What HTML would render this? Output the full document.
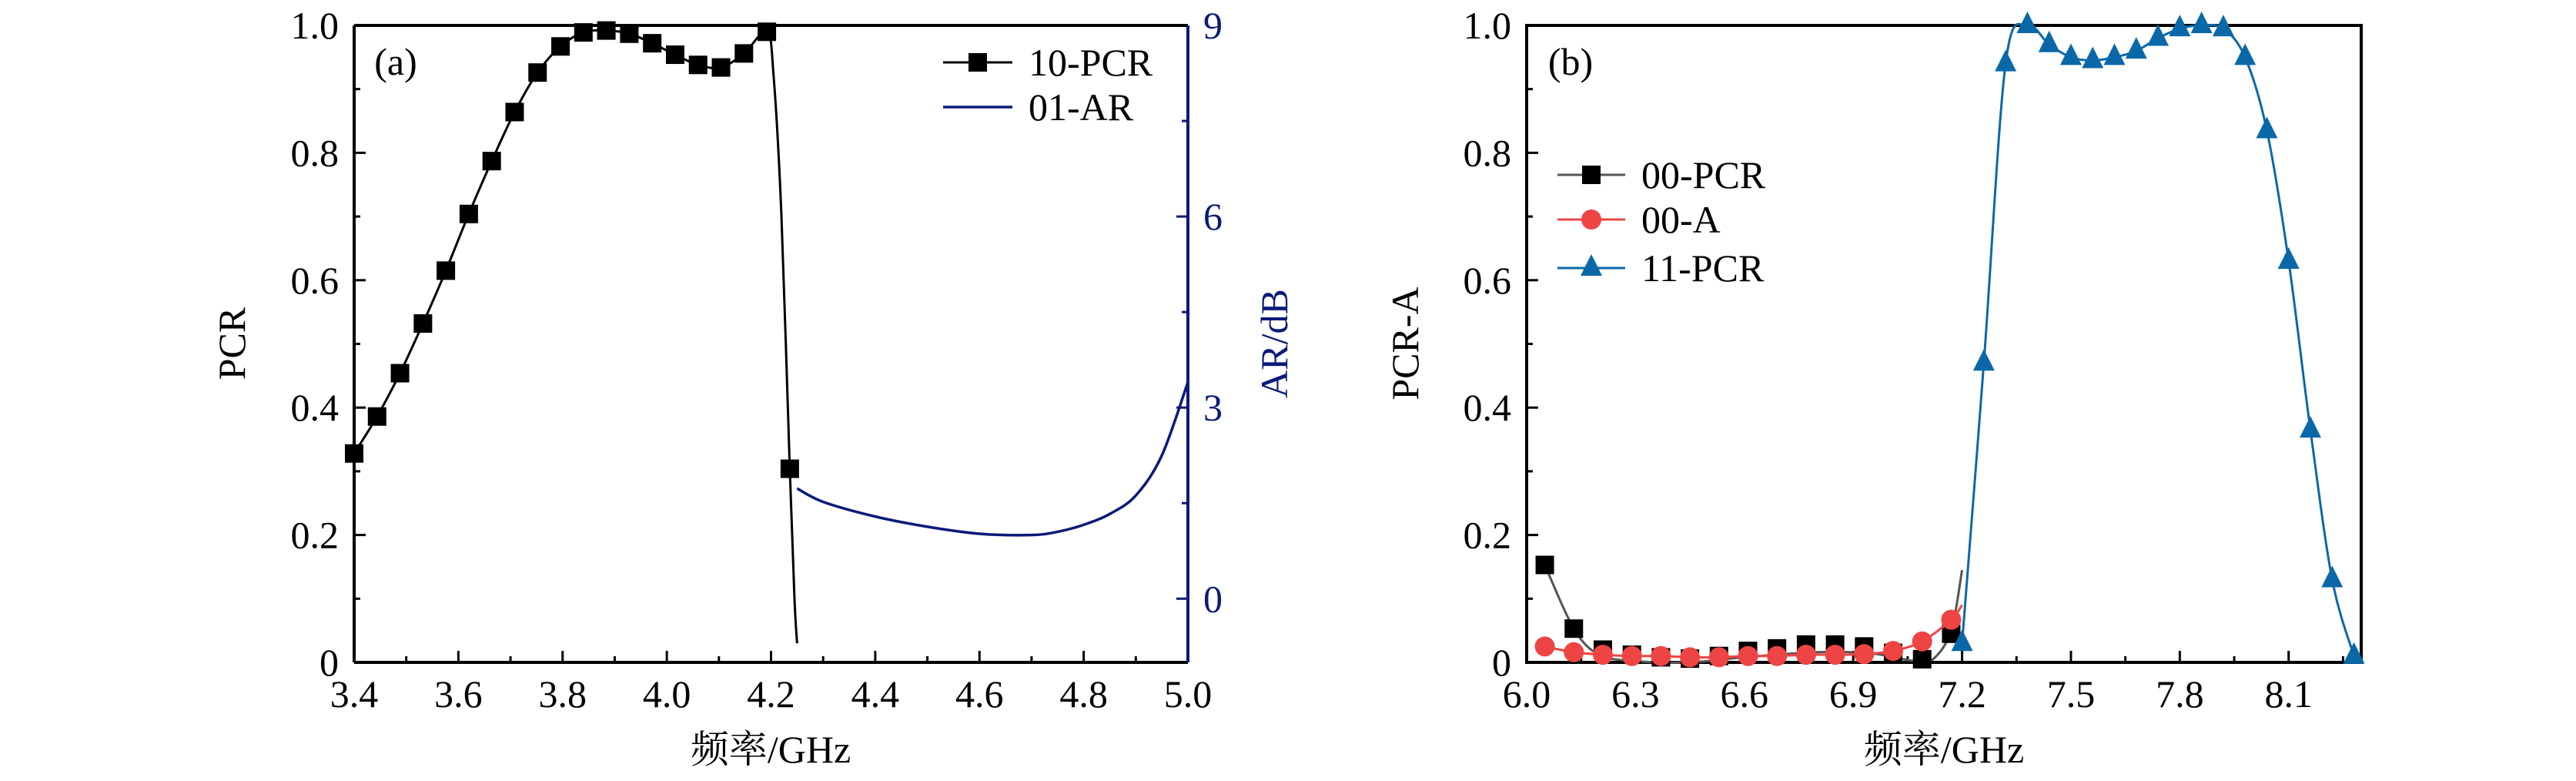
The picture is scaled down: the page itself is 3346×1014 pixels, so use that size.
<!DOCTYPE html>
<html><head><meta charset="utf-8"><style>
html,body{margin:0;padding:0;background:#fff}
svg{display:block}
text{font-family:"Liberation Serif","Noto Serif CJK SC",serif}
</style></head><body>
<svg id="chart" width="3346" height="1014" viewBox="0 0 3346 1014" xmlns="http://www.w3.org/2000/svg"></svg>
<script>
// Panel (a) data
const aPcrX = [3.4,3.444,3.488,3.532,3.576,3.62,3.664,3.708,3.752,3.796,3.84,3.884,3.928,3.972,4.016,4.06,4.104,4.148,4.192,4.236];
const aPcrY = [0.328,0.386,0.454,0.532,0.615,0.704,0.787,0.864,0.926,0.967,0.989,0.992,0.987,0.972,0.954,0.938,0.934,0.956,0.99,0.304];
const aPcrTailX = [4.245,4.25];
const aPcrTailY = [0.1,0.03];
const aArX = [4.25,4.3,4.4,4.5,4.6,4.7,4.75,4.8,4.85,4.9,4.95,5.0];
const aArY = [1.73,1.52,1.29,1.13,1.02,1.0,1.05,1.16,1.33,1.62,2.25,3.4];
const aXTicks = ["3.4","3.6","3.8","4.0","4.2","4.4","4.6","4.8","5.0"];
const aYTicks = ["0","0.2","0.4","0.6","0.8","1.0"];
const aY2Ticks = ["0","3","6","9"];
// Panel (b) data
const bPcr00X = [6.05,6.13,6.21,6.29,6.37,6.45,6.53,6.61,6.69,6.77,6.85,6.93,7.01,7.09,7.17];
const bPcr00Y = [0.153,0.053,0.02,0.012,0.008,0.006,0.01,0.018,0.022,0.028,0.028,0.025,0.015,0.005,0.045];
const bA00Y = [0.025,0.016,0.012,0.01,0.01,0.008,0.008,0.01,0.01,0.012,0.012,0.013,0.018,0.033,0.067];
const bPcr11X = [7.2,7.26,7.32,7.38,7.44,7.5,7.56,7.62,7.68,7.74,7.8,7.86,7.92,7.98,8.04,8.1,8.16,8.22,8.28];
const bPcr11Y = [0.03,0.47,0.94,1.0,0.97,0.95,0.945,0.95,0.96,0.98,0.995,1.0,0.995,0.95,0.835,0.63,0.365,0.13,0.01];
const bXTicks = ["6.0","6.3","6.6","6.9","7.2","7.5","7.8","8.1"];
const bYTicks = ["0","0.2","0.4","0.6","0.8","1.0"];

const NS="http://www.w3.org/2000/svg";
const svg=document.getElementById('chart');
function mk(tag,attrs,parent){const e=document.createElementNS(NS,tag);for(const k in attrs)e.setAttribute(k,attrs[k]);(parent||svg).appendChild(e);return e;}
function txt(s,attrs,parent){const e=mk('text',attrs,parent);e.textContent=s;return e;}
function smooth(pts){
  if(pts.length<2)return '';
  let d='M'+pts[0][0]+','+pts[0][1];
  for(let i=0;i<pts.length-1;i++){
    const p0=pts[Math.max(0,i-1)],p1=pts[i],p2=pts[i+1],p3=pts[Math.min(pts.length-1,i+2)];
    const c1=[p1[0]+(p2[0]-p0[0])/6,p1[1]+(p2[1]-p0[1])/6];
    const c2=[p2[0]-(p3[0]-p1[0])/6,p2[1]-(p3[1]-p1[1])/6];
    d+=' C'+c1[0]+','+c1[1]+' '+c2[0]+','+c2[1]+' '+p2[0]+','+p2[1];
  }
  return d;
}
const FS=50;

// ---------- Panel A ----------
const A={l:460,r:1543,t:33,b:860,x0:3.4,x1:5.0};
const ax=v=>A.l+(v-A.x0)/(A.x1-A.x0)*(A.r-A.l);
const ay=v=>A.b-v*(A.b-A.t);
const ay2=v=>A.b-(v+1)/10*(A.b-A.t);
const gA=mk('g',{});


for(let i=0;i<aXTicks.length;i++){
  const v=parseFloat(aXTicks[i]);const x=ax(v);
  const t=mk('line',{x1:x,x2:x,y1:A.b,y2:A.b-15,stroke:'#000','stroke-width':3},gA);
  
  
  if(i<aXTicks.length-1){const xm=ax(v+0.1);mk('line',{x1:xm,x2:xm,y1:A.b,y2:A.b-8,stroke:'#000','stroke-width':3},gA);}
  const l=txt(aXTicks[i],{x:x,y:918,'font-size':FS,'text-anchor':'middle'},gA);
  
  
}
for(let i=0;i<aYTicks.length;i++){
  const v=parseFloat(aYTicks[i]);const y=ay(v);
  mk('line',{x1:A.l,x2:A.l+15,y1:y,y2:y,stroke:'#000','stroke-width':3},gA);
  if(i<aYTicks.length-1){const ym=ay(v+0.1);mk('line',{x1:A.l,x2:A.l+8,y1:ym,y2:ym,stroke:'#000','stroke-width':3},gA);}
  const l=txt(aYTicks[i],{x:440,y:y+17,'font-size':FS,'text-anchor':'end'},gA);
  
  
}
for(let i=0;i<aY2Ticks.length;i++){
  const v=parseFloat(aY2Ticks[i]);const y=ay2(v);
  mk('line',{x1:A.r,x2:A.r-15,y1:y,y2:y,stroke:'#0a1a78','stroke-width':3},gA);
  const ym=ay2(v+1.5);mk('line',{x1:A.r,x2:A.r-8,y1:ym,y2:ym,stroke:'#0a1a78','stroke-width':3},gA);
  const l=txt(aY2Ticks[i],{x:1563,y:y+17,'font-size':FS,fill:'#0a1a78'},gA);
  
  
}
mk('line',{x1:A.l,x2:A.r,y1:A.t,y2:A.t,stroke:'#000','stroke-width':4},gA);
mk('line',{x1:A.l,x2:A.r,y1:A.b,y2:A.b,stroke:'#000','stroke-width':4},gA);
mk('line',{x1:A.l,x2:A.l,y1:A.t,y2:A.b,stroke:'#000','stroke-width':4},gA);
const ra=mk('line',{x1:A.r,x2:A.r,y1:A.t,y2:A.b,stroke:'#0a1a78','stroke-width':4},gA);


const pcrPts=aPcrX.map((x,i)=>[ax(x),ay(aPcrY[i])]);
const pcrLinePts=pcrPts.slice(0,19).concat([[ax(4.205),ay(0.92)],[ax(4.22),ay(0.7)]],[pcrPts[19]],aPcrTailX.map((x,i)=>[ax(x),ay(aPcrTailY[i])]));
const pl=mk('path',{d:smooth(pcrLinePts),fill:'none',stroke:'#000','stroke-width':3},gA);


pcrPts.forEach(p=>{const r=mk('rect',{x:p[0]-12,y:p[1]-12,width:24,height:24,fill:'#000'},gA);
  
  });
const arl=mk('path',{d:smooth(aArX.map((x,i)=>[ax(x),ay2(aArY[i])])),fill:'none',stroke:'#0a1a78','stroke-width':3.5},gA);


const la=txt('(a)',{x:514,y:97,'font-size':FS,'text-anchor':'middle'},gA);


const yt=txt('PCR',{x:0,y:0,'font-size':FS,'text-anchor':'middle',transform:'translate(318,446) rotate(-90)'},gA);


const y2t=txt('AR/dB',{x:0,y:0,'font-size':FS,'text-anchor':'middle',fill:'#0a1a78',transform:'translate(1672,446) rotate(-90)'},gA);


const xt=txt('频率/GHz',{x:1001,y:990,'font-size':FS,'text-anchor':'middle'},gA);


const lgA=mk('g',{},gA);


mk('line',{x1:1225,x2:1315,y1:81,y2:81,stroke:'#000','stroke-width':3},lgA);
mk('rect',{x:1258,y:69,width:24,height:24,fill:'#000'},lgA);
txt('10-PCR',{x:1336,y:98,'font-size':FS},lgA);
mk('line',{x1:1225,x2:1315,y1:139,y2:139,stroke:'#0a1a78','stroke-width':3.5},lgA);
txt('01-AR',{x:1336,y:156,'font-size':FS},lgA);

// ---------- Panel B ----------
const B={l:1983,r:3067,t:33,b:860,x0:6.0,x1:8.3};
const bx=v=>B.l+(v-B.x0)/(B.x1-B.x0)*(B.r-B.l);
const by=v=>B.b-v*(B.b-B.t);
const gB=mk('g',{});


for(let i=0;i<bXTicks.length;i++){
  const v=parseFloat(bXTicks[i]);const x=bx(v);
  mk('line',{x1:x,x2:x,y1:B.b,y2:B.b-15,stroke:'#000','stroke-width':3},gB);
  const xm=bx(v+0.15);mk('line',{x1:xm,x2:xm,y1:B.b,y2:B.b-8,stroke:'#000','stroke-width':3},gB);
  const l=txt(bXTicks[i],{x:x,y:918,'font-size':FS,'text-anchor':'middle'},gB);
  
  
}
for(let i=0;i<bYTicks.length;i++){
  const v=parseFloat(bYTicks[i]);const y=by(v);
  mk('line',{x1:B.l,x2:B.l+15,y1:y,y2:y,stroke:'#000','stroke-width':3},gB);
  if(i<bYTicks.length-1){const ym=by(v+0.1);mk('line',{x1:B.l,x2:B.l+8,y1:ym,y2:ym,stroke:'#000','stroke-width':3},gB);}
  const l=txt(bYTicks[i],{x:1963,y:y+17,'font-size':FS,'text-anchor':'end'},gB);
  
  
}
mk('rect',{x:B.l,y:B.t,width:B.r-B.l,height:B.b-B.t,fill:'none',stroke:'#000','stroke-width':4},gB);
const p00=bPcr00X.map((x,i)=>[bx(x),by(bPcr00Y[i])]);
const p00line=[p00[0],p00[1],[bx(6.2),by(0.012)],[bx(6.3),by(0.002)],[bx(6.45),by(0.0)],[bx(6.6),by(0.008)],[bx(6.8),by(0.016)],[bx(6.95),by(0.014)],[bx(7.07),by(0.002)],[bx(7.12),by(0.005)],[bx(7.17),by(0.05)],[bx(7.2),by(0.145)]];
const l00=mk('path',{d:smooth(p00line),fill:'none',stroke:'#555','stroke-width':3},gB);


p00.forEach(p=>{const r=mk('rect',{x:p[0]-12,y:p[1]-12,width:24,height:24,fill:'#000'},gB);
  
  });
const pa=bPcr00X.map((x,i)=>[bx(x),by(bA00Y[i])]);
const la00=mk('path',{d:smooth(pa.concat([[bx(7.2),by(0.09)]])),fill:'none',stroke:'#ef4444','stroke-width':3},gB);


pa.forEach(p=>{const c=mk('circle',{cx:p[0],cy:p[1],r:13,fill:'#ef4444'},gB);
  
  });
const p11=bPcr11X.map((x,i)=>[bx(x),by(bPcr11Y[i])]);
const l11=mk('path',{d:smooth(p11),fill:'none',stroke:'#0b68a8','stroke-width':3},gB);


p11.forEach(p=>{const t=mk('polygon',{points:`${p[0]},${p[1]-18} ${p[0]-14},${p[1]+10} ${p[0]+14},${p[1]+10}`,fill:'#0b68a8'},gB);
  
  });
const lb=txt('(b)',{x:2040,y:97,'font-size':FS,'text-anchor':'middle'},gB);


const ybt=txt('PCR-A',{x:0,y:0,'font-size':FS,'text-anchor':'middle',transform:'translate(1842,446) rotate(-90)'},gB);


const xbt=txt('频率/GHz',{x:2525,y:990,'font-size':FS,'text-anchor':'middle'},gB);


const lgB=mk('g',{},gB);


mk('line',{x1:2023,x2:2111,y1:227,y2:227,stroke:'#555','stroke-width':3},lgB);
mk('rect',{x:2055,y:215,width:24,height:24,fill:'#000'},lgB);
txt('00-PCR',{x:2132,y:244,'font-size':FS},lgB);
mk('line',{x1:2023,x2:2111,y1:285,y2:285,stroke:'#ef4444','stroke-width':3},lgB);
mk('circle',{cx:2067,cy:285,r:13,fill:'#ef4444'},lgB);
txt('00-A',{x:2132,y:302,'font-size':FS},lgB);
mk('line',{x1:2023,x2:2111,y1:348,y2:348,stroke:'#0b68a8','stroke-width':3},lgB);
mk('polygon',{points:'2067,330 2053,358 2081,358',fill:'#0b68a8'},lgB);
txt('11-PCR',{x:2132,y:365,'font-size':FS},lgB);
</script>
</body></html>
